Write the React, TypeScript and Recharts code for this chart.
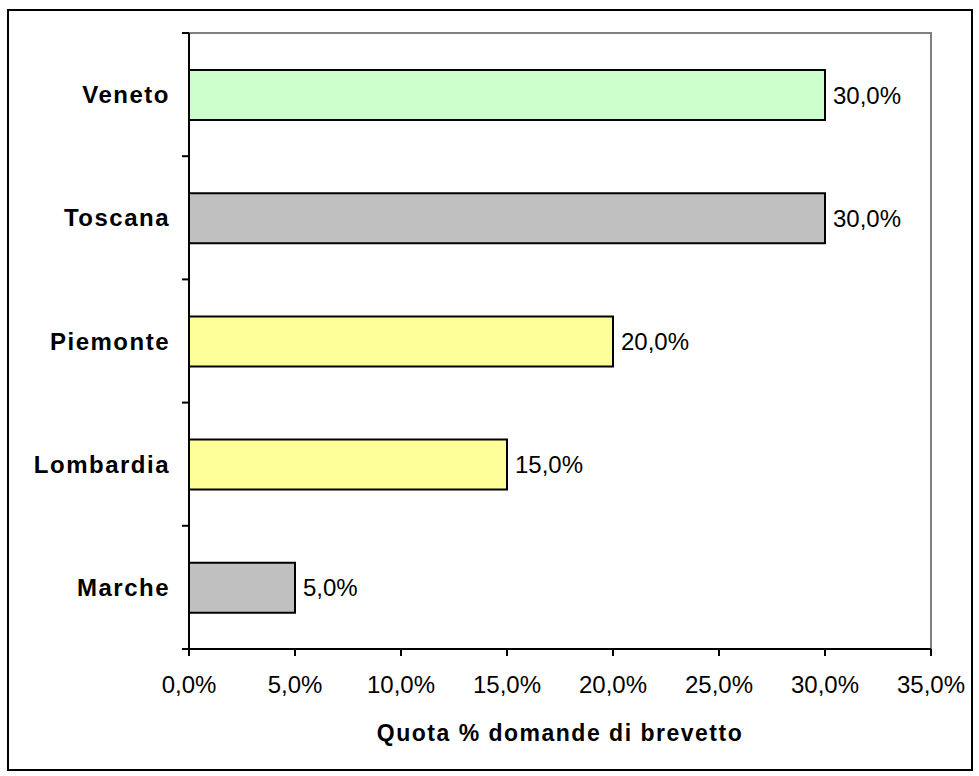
import React from 'react';
import { BarChart, Bar, XAxis, YAxis, Cell, LabelList, Label, ReferenceArea } from 'recharts';

const regions = ['Veneto', 'Toscana', 'Piemonte', 'Lombardia', 'Marche'];
const shares = [30, 30, 20, 15, 5];
const barColors = ['#CCFFCC', '#C0C0C0', '#FFFF99', '#FFFF99', '#C0C0C0'];
const xTicks = [0, 5, 10, 15, 20, 25, 30, 35];
const axisTitle = 'Quota % domande di brevetto';

const data = regions.map((name, i) => ({ name, value: shares[i] }));

const fmt = (v: number) => `${v.toFixed(1).replace('.', ',')}%`;

const W = 979;
const H = 776;
const PLOT_LEFT = 189;
const PLOT_TOP = 33;
const PLOT_BOTTOM = 649;
const BAND = (PLOT_BOTTOM - PLOT_TOP) / regions.length;
const FONT = 'Arial, "Liberation Sans", sans-serif';

const CategoryTick = ({ x, y, payload, index }: any) => {
    const isLast = index === regions.length - 1;
    return (
        <g>
            <text
                x={x}
                y={y}
                dy="0.36em"
                textAnchor="end"
                fill="#000"
                fontSize={24}
                fontWeight="bold"
                letterSpacing={1.5}
                fontFamily={FONT}
            >
                {payload.value}
            </text>
            <line x1={PLOT_LEFT - 7} x2={PLOT_LEFT} y1={y - BAND / 2} y2={y - BAND / 2} stroke="#000" strokeWidth={2} />
            {isLast && (
                <line x1={PLOT_LEFT - 7} x2={PLOT_LEFT} y1={y + BAND / 2} y2={y + BAND / 2} stroke="#000" strokeWidth={2} />
            )}
        </g>
    );
};

export default function App() {
    return (
        <div style={{ position: 'absolute', left: 0, top: 0, width: W, height: H, background: '#fff', fontFamily: FONT }}>
            <div
                style={{
                    position: 'absolute',
                    left: 7,
                    top: 9,
                    width: 966,
                    height: 762,
                    border: '2px solid #000',
                    boxSizing: 'border-box',
                }}
            />
            <div style={{ position: 'absolute', left: 0, top: 0 }}>
                <BarChart
                    width={W}
                    height={H}
                    data={data}
                    layout="vertical"
                    margin={{ top: PLOT_TOP, right: W - 931, bottom: 0, left: 0 }}
                >
                    <ReferenceArea
                        x1={0}
                        x2={35}
                        fill="none"
                        stroke="#808080"
                        strokeWidth={2}
                        ifOverflow="visible"
                    />
                    <XAxis
                        type="number"
                        domain={[0, 35]}
                        ticks={xTicks}
                        tickFormatter={fmt}
                        height={H - PLOT_BOTTOM}
                        axisLine={{ stroke: '#000', strokeWidth: 2 }}
                        tickLine={{ stroke: '#000', strokeWidth: 2 }}
                        tickSize={7}
                        tickMargin={20}
                        tick={{ fill: '#000', fontSize: 24, fontFamily: FONT }}
                    >
                        <Label
                            value={axisTitle}
                            position="insideBottom"
                            offset={35}
                            style={{ fill: '#000', fontSize: 23, fontWeight: 'bold', letterSpacing: 1.5, fontFamily: FONT }}
                        />
                    </XAxis>
                    <YAxis
                        type="category"
                        dataKey="name"
                        width={PLOT_LEFT}
                        axisLine={{ stroke: '#000', strokeWidth: 2 }}
                        tickLine={false}
                        tickSize={7}
                        tickMargin={12}
                        tick={<CategoryTick />}
                    />
                    <Bar dataKey="value" barSize={50} stroke="#000" strokeWidth={2} isAnimationActive={false}>
                        {data.map((d, i) => (
                            <Cell key={d.name} fill={barColors[i]} />
                        ))}
                        <LabelList
                            dataKey="value"
                            position="right"
                            offset={8}
                            formatter={(v: any) => fmt(Number(v))}
                            style={{ fill: '#000', fontSize: 24, fontFamily: FONT }}
                        />
                    </Bar>
                </BarChart>
            </div>
        </div>
    );
}
